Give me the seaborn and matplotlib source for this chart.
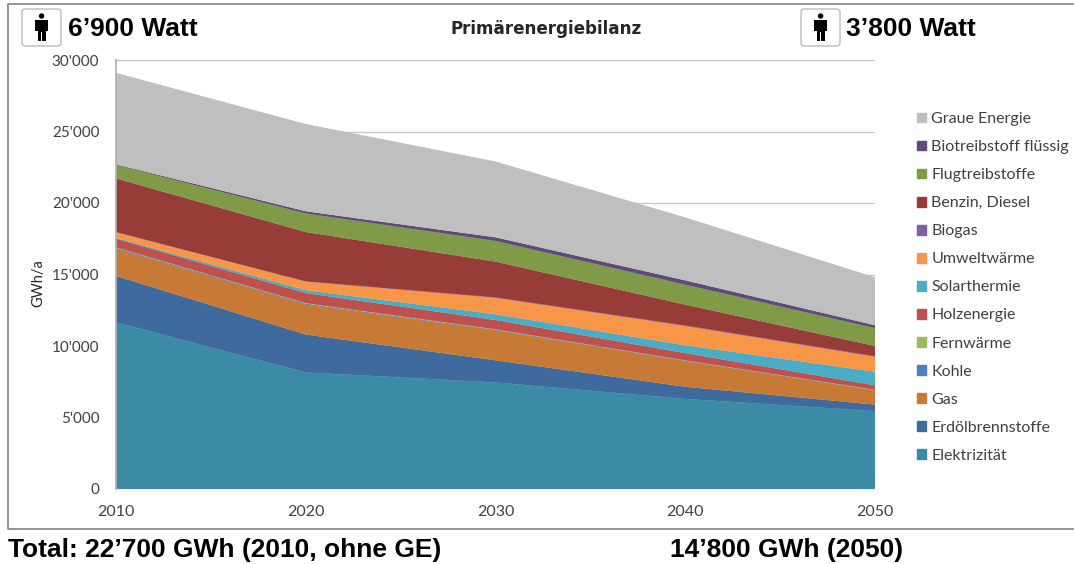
import pandas as pd
import matplotlib
matplotlib.use("Agg")
import matplotlib.pyplot as plt
from matplotlib.patches import Patch, FancyBboxPatch, Circle, Polygon
import seaborn as sns
import seaborn.objects as so

years = [2010, 2020, 2030, 2040, 2050]

# bottom to top, as stacked in the chart
elektrizitaet = [11650, 8150, 7450, 6300, 5450]
erdoel = [3250, 2650, 1550, 850, 450]
gas = [1900, 2100, 2100, 1800, 1000]
kohle = [60, 60, 40, 30, 20]
fernwaerme = [40, 40, 30, 20, 20]
holz = [600, 700, 650, 500, 310]
solar = [50, 200, 400, 550, 950]
umwelt = [400, 600, 1150, 1350, 1050]
biogas = [20, 20, 30, 40, 40]
benzin = [3750, 3450, 2500, 1450, 710]
flug = [950, 1300, 1450, 1400, 1250]
biotreib = [30, 150, 250, 300, 200]
graue = [6400, 6100, 5300, 4400, 3350]

names = ['Elektrizität', 'Erdölbrennstoffe', 'Gas', 'Kohle', 'Fernwärme', 'Holzenergie', 'Solarthermie',
         'Umweltwärme', 'Biogas', 'Benzin, Diesel', 'Flugtreibstoffe', 'Biotreibstoff flüssig', 'Graue Energie']
series = [elektrizitaet, erdoel, gas, kohle, fernwaerme, holz, solar, umwelt, biogas, benzin, flug, biotreib, graue]
colors = ['#3C8BA5', '#3F6A9E', '#C77A35', '#4F81BD', '#9BBB59', '#C0504D', '#4BACC6',
          '#F79646', '#7D60A0', '#983C3A', '#7F9B47', '#604A7B', '#BFBFBF']

y_ticks = [0, 5000, 10000, 15000, 20000, 25000, 30000]
y_labels = ['0', "5'000", "10'000", "15'000", "20'000", "25'000", "30'000"]

df = pd.DataFrame([(n, y, v) for n, s in zip(names, series) for y, v in zip(years, s)],
                  columns=['Traeger', 'Jahr', 'GWh'])

sns.set_theme(style='white')
plt.rcParams['font.family'] = ['Lato', 'DejaVu Sans']
grey = '#404040'
W, H = 1074, 564

fig = plt.figure(figsize=(W / 100, H / 100), dpi=100)

# overlay in pixel coordinates for the frame, icons and slide texts
bg = fig.add_axes([0, 0, 1, 1])
bg.set_xlim(0, W); bg.set_ylim(H, 0); bg.axis('off')
bg.plot([W, 8, 8, W], [4, 4, 529, 529], color='#8c8c8c', lw=1.3)


def person(x, y):
    bg.add_patch(FancyBboxPatch((x + 2, y + 2), 39, 37, boxstyle='round,pad=0,rounding_size=3',
                                fc='white', ec='#b5b5b5', lw=0.9))
    c = x + 21.6
    bg.add_patch(Circle((c, y + 9), 2.7, color='black', lw=0))
    bg.add_patch(Polygon([(c - 6.5, y + 13), (c + 6.5, y + 13), (c + 6.5, y + 24), (c + 4, y + 24),
                          (c + 4, y + 34), (c + 0.6, y + 34), (c + 0.6, y + 25), (c - 0.6, y + 25),
                          (c - 0.6, y + 34), (c - 4, y + 34), (c - 4, y + 24), (c - 6.5, y + 24)],
                         color='black', lw=0))


person(20, 7)
person(799, 7)

arial = ['Liberation Sans', 'DejaVu Sans']
bg.text(68, 36, '6’900 Watt', family=arial, weight='bold', size=19, color='black')
bg.text(846, 36, '3’800 Watt', family=arial, weight='bold', size=19, color='black')
bg.text(8, 557, 'Total: 22’700 GWh (2010, ohne GE)', family=arial, weight='bold', size=19, color='black')
bg.text(670, 557, '14’800 GWh (2050)', family=arial, weight='bold', size=19, color='black')
bg.text(546, 29, 'Primärenergiebilanz', ha='center', va='center', family=['DejaVu Sans'],
        weight='bold', size=12.1, color='#262626')
bg.text(38, 283, 'GWh/a', ha='center', va='center', rotation=90, size=10.5, color='#262626')

ax = fig.add_axes([116 / W, 1 - 489 / H, (875 - 116) / W, (489 - 60) / H])

(
    so.Plot(df, x='Jahr', y='GWh', color='Traeger')
    .add(so.Area(alpha=1, edgewidth=0.4), so.Stack(), legend=False)
    .scale(color=dict(zip(names, colors)))
    .limit(x=(2010, 2050), y=(0, 30000))
    .on(ax)
    .plot()
)

ax.set_facecolor('none')
ax.set_xlabel(''); ax.set_ylabel('')
ax.set_xticks(years, [str(y) for y in years])
ax.set_yticks(y_ticks, y_labels)
ax.tick_params(axis='x', length=0, pad=11.5, labelsize=11.5, labelcolor=grey)
ax.tick_params(axis='y', length=0, pad=12, labelsize=11, labelcolor=grey)
ax.grid(axis='y', color='#c8c8c8', lw=1)
ax.grid(axis='x', visible=False)
ax.set_axisbelow(True)
sns.despine(ax=ax, top=True, right=True, bottom=True)
ax.spines['left'].set_color('#b0b0b0')

handles = [Patch(color=c, label=n) for n, c in zip(names, colors)][::-1]
fig.legend(handles=handles, loc='upper left', bbox_to_anchor=(914 / W, 1 - 109 / H), frameon=False,
           fontsize=11.5, labelcolor=grey, handlelength=0.56, handleheight=0.56, handletextpad=0.33,
           labelspacing=0.879, borderpad=0.2, borderaxespad=0)

fig.savefig('out.png', dpi=100)
